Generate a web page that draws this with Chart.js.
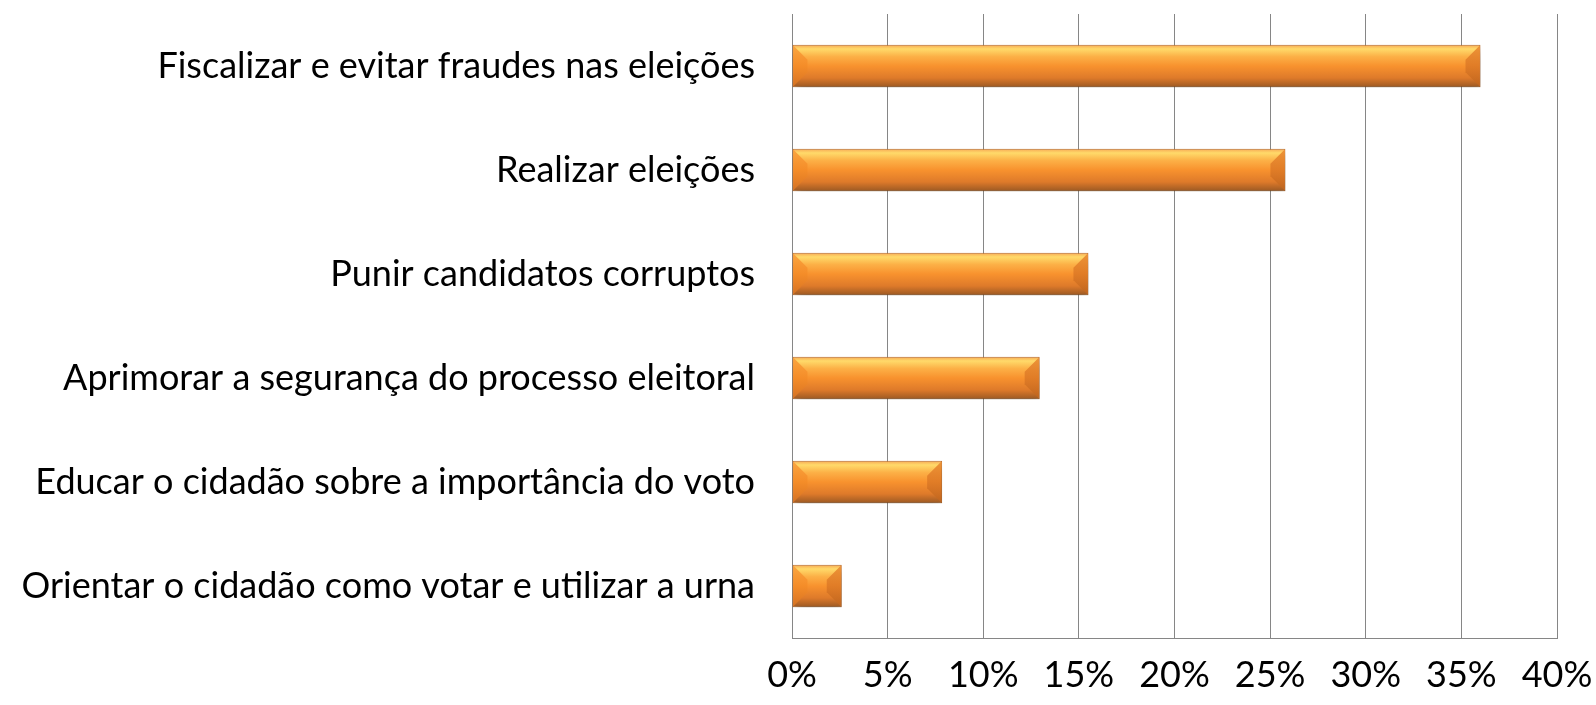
<!DOCTYPE html>
<html>
<head>
<meta charset="utf-8">
<script src="https://cdn.jsdelivr.net/npm/chart.js@4/dist/chart.umd.min.js"></script>
<style>
  html, body { margin: 0; padding: 0; background: #fff; }
  #wrap { width: 1596px; height: 705px; }
</style>
</head>
<body>
<div id="wrap"><canvas id="chart"></canvas></div>
<script>
// Categorias e valores (%)
var categories = [
    'Fiscalizar e evitar fraudes nas eleições',
    'Realizar eleições',
    'Punir candidatos corruptos',
    'Aprimorar a segurança do processo eleitoral',
    'Educar o cidadão sobre a importância do voto',
    'Orientar o cidadão como votar e utilizar a urna'
];
var values = [36.0, 25.8, 15.5, 12.95, 7.85, 2.6];
var axisMax = 40;
var axisStep = 5;

var fontFamily = "Lato, 'Open Sans', sans-serif";
var barPct = 0.41;

// Gradiente laranja (estilo Excel), calculado a partir da escala
function barGradient(ctx) {
    var chart = ctx.chart;
    var yScale = chart.scales.y;
    if (!chart.chartArea || !yScale || ctx.dataIndex === undefined) return '#F79646';
    var cy = yScale.getPixelForValue(ctx.dataIndex);
    var h = chart.chartArea.height / categories.length * barPct;
    if (!isFinite(cy) || !isFinite(h) || h <= 0) return '#F79646';
    var g = chart.ctx.createLinearGradient(0, cy - h / 2, 0, cy + h / 2);
    g.addColorStop(0, '#F7A654');
    g.addColorStop(0.1, '#FFDA6A');
    g.addColorStop(0.28, '#FCB046');
    g.addColorStop(0.5, '#F8922E');
    g.addColorStop(0.78, '#DE7A2A');
    g.addColorStop(1, '#9A5823');
    return g;
}

// sombra + chanfro nas pontas
var bevelPlugin = {
    id: 'bevel',
    beforeDatasetsDraw: function (chart) {
        var c = chart.ctx;
        c.save();
        c.shadowColor = 'rgba(0,0,0,0.35)';
        c.shadowBlur = 9;
        c.shadowOffsetX = 2;
        c.shadowOffsetY = 6;
    },
    afterDatasetsDraw: function (chart) {
        var c = chart.ctx;
        c.restore();
        var meta = chart.getDatasetMeta(0);
        meta.data.forEach(function (bar) {
            var h = bar.height, left = bar.base, right = bar.x;
            var top = bar.y - h / 2, bottom = bar.y + h / 2;
            var b = Math.min(15, (right - left) / 2, h / 2);
            c.save();
            var gl = c.createLinearGradient(0, top, 0, bottom);
            gl.addColorStop(0, 'rgba(250,160,60,0.9)');
            gl.addColorStop(0.5, 'rgba(244,140,40,0.9)');
            gl.addColorStop(1, 'rgba(215,115,35,0.9)');
            c.beginPath();
            c.moveTo(left + 0.5, top + 0.5); c.lineTo(left + b, top + b);
            c.lineTo(left + b, bottom - b); c.lineTo(left + 0.5, bottom - 0.5);
            c.closePath();
            c.fillStyle = gl;
            c.fill();
            var gr = c.createLinearGradient(0, top, 0, bottom);
            gr.addColorStop(0, 'rgba(235,140,50,0.9)');
            gr.addColorStop(0.5, 'rgba(222,122,38,0.9)');
            gr.addColorStop(1, 'rgba(190,100,30,0.9)');
            c.beginPath();
            c.moveTo(right - 0.5, top + 0.5); c.lineTo(right - b, top + b);
            c.lineTo(right - b, bottom - b); c.lineTo(right - 0.5, bottom - 0.5);
            c.closePath();
            c.fillStyle = gr;
            c.fill();
            c.restore();
        });
    }
};

new Chart(document.getElementById('chart'), {
    type: 'bar',
    data: {
        labels: categories,
        datasets: [{
            data: values,
            backgroundColor: barGradient,
            borderColor: '#B76A2A',
            borderWidth: 1,
            borderSkipped: false,
            categoryPercentage: 1,
            barPercentage: barPct
        }]
    },
    options: {
        indexAxis: 'y',
        responsive: true,
        maintainAspectRatio: false,
        animation: false,
        layout: { padding: { top: 14, right: 39, bottom: 0, left: 0 } },
        plugins: {
            legend: { display: false },
            tooltip: { enabled: false }
        },
        scales: {
            x: {
                min: 0,
                max: axisMax,
                ticks: {
                    stepSize: axisStep,
                    padding: 16,
                    color: '#000',
                    font: { family: fontFamily, size: 36 },
                    maxRotation: 0,
                    callback: function (v) { return v + '%'; }
                },
                grid: { color: '#868686', lineWidth: 1, drawTicks: false },
                border: { color: '#868686' },
                afterFit: function (s) {
                    s.height = 67;
                    s.paddingLeft = 0;
                    s.paddingRight = 0;
                }
            },
            y: {
                ticks: {
                    padding: 37,
                    color: '#000',
                    font: { family: fontFamily, size: 36 }
                },
                grid: { display: false, drawTicks: false },
                border: { color: '#868686' },
                afterFit: function (s) {
                    s.width = 792;
                    s.paddingTop = 0;
                    s.paddingBottom = 0;
                }
            }
        }
    },
    plugins: [bevelPlugin]
});
</script>
</body>
</html>
